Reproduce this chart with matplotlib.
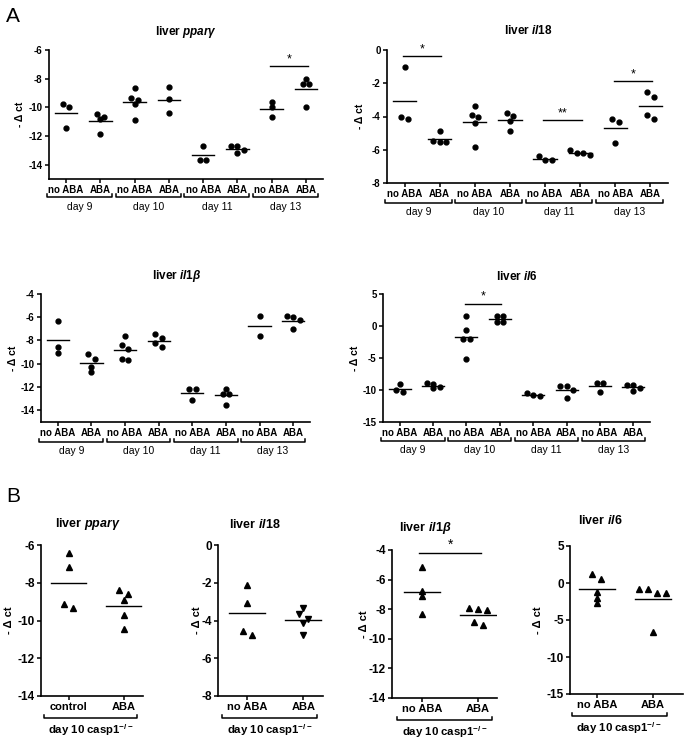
import matplotlib
matplotlib.use('Agg')
import matplotlib.pyplot as plt
import numpy as np

plt.rcParams['font.family'] = ['Liberation Sans', 'DejaVu Sans']
plt.rcParams['mathtext.fontset'] = 'custom'
plt.rcParams['mathtext.rm'] = 'Liberation Sans:bold'
plt.rcParams['mathtext.it'] = 'Liberation Sans:italic:bold'
plt.rcParams['mathtext.bf'] = 'Liberation Sans:bold'

# ---------------- data ----------------
days = ['day 9', 'day 10', 'day 11', 'day 13']
groups_A = ['no ABA', 'ABA', 'no ABA', 'ABA', 'no ABA', 'ABA', 'no ABA', 'ABA']

A_ppar = [[-9.75, -9.95, -11.45], [-10.65, -10.8, -10.45, -11.85],
          [-8.65, -9.5, -9.35, -9.8, -10.85], [-8.6, -9.4, -10.4],
          [-12.7, -13.65, -13.65], [-12.7, -13.2, -12.95, -12.7],
          [-9.65, -10.0, -10.7], [-8.4, -8.0, -8.4, -9.95]]
A_il18 = [[-1.0, -4.15, -4.0], [-4.85, -5.5, -5.55, -5.55],
          [-3.35, -4.05, -3.9, -4.4, -5.85], [-3.8, -3.95, -4.3, -4.9],
          [-6.4, -6.6, -6.6], [-6.2, -6.3, -6.2, -6.0],
          [-4.15, -4.35, -5.6], [-2.55, -2.8, -4.15, -3.9]]
A_il1b = [[-6.35, -8.55, -9.1], [-9.2, -9.6, -10.3, -10.75],
          [-7.6, -8.4, -8.7, -9.7, -9.6], [-7.45, -7.75, -8.25, -8.6],
          [-12.2, -12.2, -13.15], [-12.6, -12.6, -12.15, -13.6],
          [-5.9, -7.6], [-6.0, -6.25, -5.9, -7.0]]
A_il6 = [[-9.05, -10.3, -10.05], [-9.05, -9.75, -9.6, -8.95],
         [1.55, -0.65, -2.1, -2.1, -5.15], [1.55, 1.55, 0.6, 0.6],
         [-10.45, -10.95, -10.75], [-9.4, -9.4, -10.0, -11.3],
         [-8.95, -8.95, -10.35], [-9.25, -10.1, -9.75, -9.2]]

# significance: (group a, group b, bar level, label)
A_ppar_sig = [(6, 7, -7.1, '*')]
A_il18_sig = [(0, 1, -0.36, '*'), (4, 5, -4.24, '**'), (6, 7, -1.85, '*')]
A_il1b_sig = []
A_il6_sig = [(2, 3, 3.5, '*')]

B_label = 'day 10 casp1$^{-/-}$'
B_ppar_groups = ['control', 'ABA']
B_ppar = [[-6.4, -7.15, -9.35, -9.15], [-8.4, -8.6, -8.9, -9.7, -10.45]]
B_il18_groups = ['no ABA', 'ABA']
B_il18 = [[-2.1, -3.05, -4.75, -4.55], [-3.65, -3.9, -3.35, -4.15, -4.75]]
B_il1b_groups = ['no ABA', 'ABA']
B_il1b = [[-5.15, -6.75, -7.1, -8.3], [-8.0, -8.05, -7.9, -9.05, -8.85]]
B_il1b_sig = [(0, 1, -4.18, '*')]
B_il6_groups = ['no ABA', 'ABA']
B_il6 = [[0.5, 1.15, -1.2, -2.75, -2.05], [-0.75, -1.3, -1.3, -0.75, -6.65]]

# ---------------- layout helpers ----------------
W, H = 685, 742
fig = plt.figure(figsize=(W / 100, H / 100), dpi=100)


def add_ax(left, top, right, bottom):
    return fig.add_axes([left / W, 1 - bottom / H, (right - left) / W, (bottom - top) / H])


def swarm_offsets(vals, ax, spacing_px, thresh_px):
    vals = np.asarray(vals, dtype=float)
    y0, y1 = ax.get_ylim()
    x0, x1 = ax.get_xlim()
    bb = ax.get_position()
    ypu = bb.height * H / (y1 - y0)
    xpu = bb.width * W / (x1 - x0)
    order = np.argsort(-vals, kind='stable')
    rows, cur = [], []
    for idx in order:
        if cur and abs(vals[cur[0]] - vals[idx]) * ypu > thresh_px:
            rows.append(cur)
            cur = []
        cur.append(idx)
    rows.append(cur)
    offs = np.zeros(len(vals))
    for r in rows:
        n = len(r)
        for k, idx in enumerate(r):
            offs[idx] = (k - (n - 1) / 2) * spacing_px / xpu
    return offs


def style_axes(ax, ylim, yticks, xlim, labels, tick_fs, xt_fs):
    ax.set_ylim(*ylim)
    ax.set_xlim(*xlim)
    ax.set_yticks(yticks)
    ax.set_yticklabels([f'{t:g}' for t in yticks], fontsize=tick_fs, fontweight='bold')
    ax.set_xticks(range(len(labels)))
    ax.set_xticklabels(labels, fontsize=xt_fs, fontweight='bold')
    for s in ['top', 'right']:
        ax.spines[s].set_visible(False)
    for s in ['left', 'bottom']:
        ax.spines[s].set_linewidth(1.2)
    ax.tick_params(axis='both', length=3, width=1.1, pad=1.5)
    ax.patch.set_alpha(0)


def draw_groups(ax, data, markers, ms, spacing, thresh, half):
    for i, vals in enumerate(data):
        offs = swarm_offsets(vals, ax, spacing, thresh)
        ax.plot(i + offs, vals, linestyle='none', marker=markers[i], ms=ms,
                color='black', mec='black', clip_on=False, zorder=3)
        m = np.mean(vals)
        ax.plot([i - half, i + half], [m, m], color='black', lw=1.0, zorder=2)


def draw_sig(ax, sigs, fs=9):
    for a, b, y, lab in sigs:
        ax.plot([a - 0.05, b + 0.05], [y, y], color='black', lw=1.0, clip_on=False)
        ax.annotate(lab, xy=((a + b) / 2, y), xytext=(0, 0.5), textcoords='offset points',
                    ha='center', va='bottom', fontsize=fs, clip_on=False)


def bracket(ax, x0, x1, dy_px, label, label_dy_px, fs, weight):
    hpx = ax.get_position().height * H
    fy = -dy_px / hpx
    up = 3.0 / hpx
    tr = ax.get_xaxis_transform()
    ax.plot([x0, x0, x1, x1], [fy + up, fy, fy, fy + up], color='black', lw=1.1,
            transform=tr, clip_on=False)
    ax.text((x0 + x1) / 2, -label_dy_px / hpx, label, transform=tr, ha='center',
            va='center', fontsize=fs, fontweight=weight)


def ftext(x, y, s, **kw):
    fig.text(x / W, 1 - y / H, s, **kw)


ylab = '- \u0394 ct'

# ---------------- Panel A ----------------
A_specs = [
    (A_ppar, A_ppar_sig, (49, 50, 323, 179), (-15, -6), [-6, -8, -10, -12, -14],
     'liver $\\mathit{ppar\u03b3}$', (186, 32), (20, 114), (18, 28)),
    (A_il18, A_il18_sig, (387, 50, 668, 183), (-8, 0), [0, -2, -4, -6, -8],
     'liver $\\mathit{il18}$', (528, 31), (360, 116), (20, 29)),
    (A_il1b, A_il1b_sig, (41, 294, 310, 421.7), (-15, -4), [-4, -6, -8, -10, -12, -14],
     'liver $\\mathit{il1\u03b2}$', (177, 276), (13, 358), (20, 29)),
    (A_il6, A_il6_sig, (383, 294, 650, 422), (-15, 5), [5, 0, -5, -10, -15],
     'liver $\\mathit{il6}$', (517, 276), (355, 358), (19, 28)),
]

for data, sigs, box, ylim, yt, title, tpos, lpos, bdy in A_specs:
    ax = add_ax(*box)
    style_axes(ax, ylim, yt, (-0.5, 7.5), groups_A, 7, 7)
    draw_groups(ax, data, ['o'] * 8, 3.5, 6.5, 5.0, 0.33)
    draw_sig(ax, sigs)
    for k, d in enumerate(days):
        bracket(ax, 2 * k - 0.55, 2 * k + 1.35, bdy[0], d, bdy[1], 7.5, 'normal')
    ftext(tpos[0], tpos[1], title, ha='center', va='center', fontsize=8.5, fontweight='bold')
    ftext(lpos[0], lpos[1], ylab, ha='center', va='center', rotation=90, fontsize=7.5,
          fontweight='bold')

ftext(6, 16, 'A', ha='left', va='center', fontsize=15)
ftext(6, 496, 'B', ha='left', va='center', fontsize=15)

# ---------------- Panel B ----------------
B_specs = [
    (B_ppar, B_ppar_groups, [], ['^', '^'], (41, 545, 143, 696), (-0.5, 1.35), (-14, -6),
     [-6, -8, -10, -12, -14], 'liver $\\mathit{ppar\u03b3}$', (88, 524), (9, 620)),
    (B_il18, B_il18_groups, [], ['^', 'v'], (218, 545, 323, 696), (-0.52, 1.35), (-8, 0),
     [0, -2, -4, -6, -8], 'liver $\\mathit{il18}$', (255, 524), (197, 620)),
    (B_il1b, B_il1b_groups, B_il1b_sig, ['^', '^'], (392, 550, 497, 698), (-0.54, 1.34),
     (-14, -4), [-4, -6, -8, -10, -12, -14], 'liver $\\mathit{il1\u03b2}$', (425, 528),
     (364, 624)),
    (B_il6, B_il6_groups, [], ['^', '^'], (570, 546, 683, 694), (-0.48, 1.54), (-15, 5),
     [5, 0, -5, -10, -15], 'liver $\\mathit{il6}$', (600, 521), (538, 620)),
]

for data, grp, sigs, mk, box, xlim, ylim, yt, title, tpos, lpos in B_specs:
    ax = add_ax(*box)
    style_axes(ax, ylim, yt, xlim, grp, 8.5, 8)
    draw_groups(ax, data, mk, 4.2, 9.0, 5.0, 0.32)
    draw_sig(ax, sigs, fs=10)
    bracket(ax, -0.45, 1.25, 22, B_label, 34, 8.2, 'bold')
    ftext(tpos[0], tpos[1], title, ha='center', va='center', fontsize=9, fontweight='bold')
    ftext(lpos[0], lpos[1], ylab, ha='center', va='center', rotation=90, fontsize=8,
          fontweight='bold')

fig.savefig('out.png', dpi=100)
